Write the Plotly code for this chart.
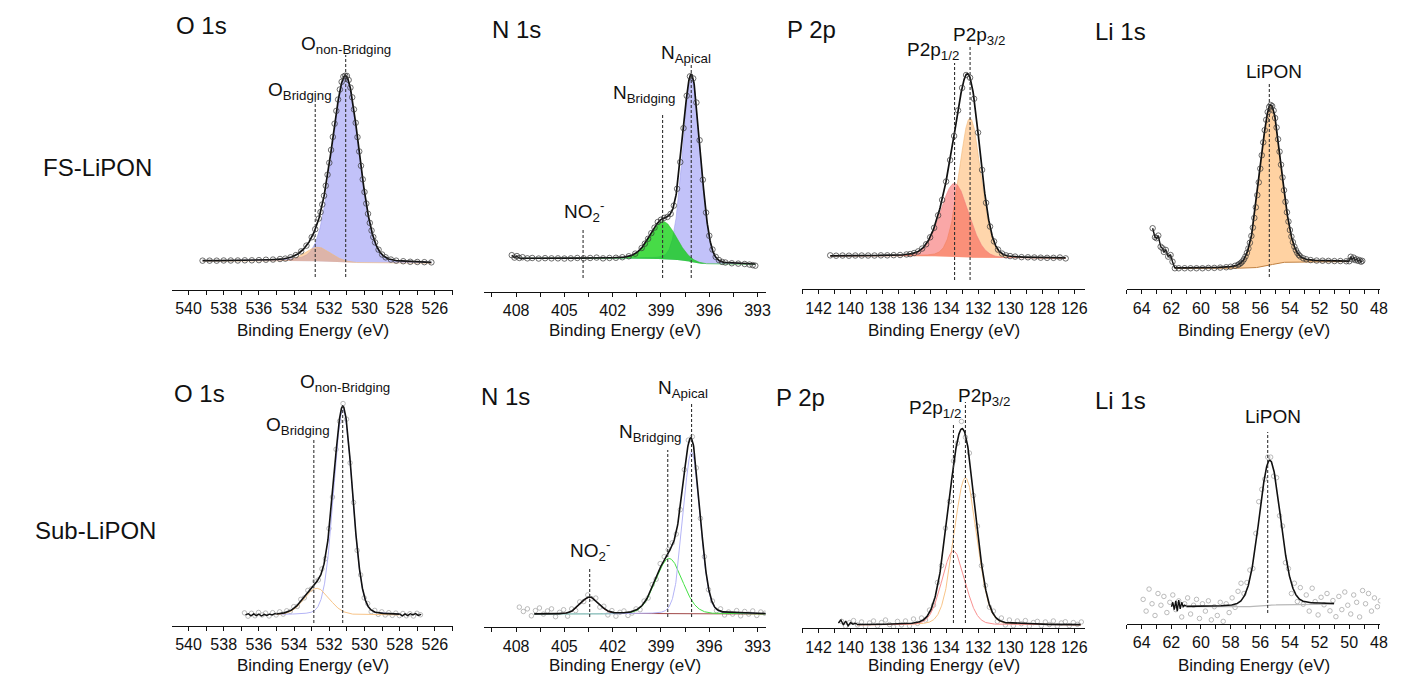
import numpy as np
import plotly.graph_objects as go

W, H = 1402, 678
FONT = "Liberation Sans, Arial, Helvetica, sans-serif"

# ============ FS-LiPON : O 1s ============
fs_o1s_E = [539.2, 538.8, 538.4, 538.0, 537.6, 537.2, 536.8, 536.4, 536.0, 535.6, 535.2, 534.8, 534.5, 534.2,
            533.9, 533.6, 533.3, 533.0, 532.8,
            532.6, 532.5, 532.4, 532.3, 532.2, 532.1, 532.0, 531.9, 531.8, 531.7, 531.6, 531.5, 531.4, 531.3,
            531.2, 531.1, 531.0, 530.9, 530.8, 530.7, 530.6, 530.5, 530.4, 530.3, 530.2, 530.1, 530.0, 529.9,
            529.8, 529.7, 529.6, 529.5, 529.4,
            529.2, 529.0, 528.8, 528.5, 528.2, 527.8, 527.4, 527.0, 526.6, 526.2]
fs_o1s_I = [0.002, 0.002, 0.002, 0.003, 0.003, 0.003, 0.004, 0.004, 0.005, 0.007, 0.008, 0.011, 0.013, 0.020,
            0.032, 0.052, 0.083, 0.128, 0.171,
            0.228, 0.263, 0.304, 0.351, 0.405, 0.464, 0.528, 0.597, 0.667, 0.738, 0.807, 0.868, 0.922, 0.963,
            0.991, 0.996, 0.995, 0.973, 0.932, 0.880, 0.815, 0.743, 0.666, 0.589, 0.512, 0.439, 0.371, 0.309,
            0.254, 0.205, 0.164, 0.129, 0.100,
            0.061, 0.035, 0.020, 0.008, 0.002, -0.001, -0.004, -0.005, -0.006, -0.007]
fs_o1s_center = [531.07, 532.65]
fs_o1s_height = [0.995, 0.075]
fs_o1s_fwhm = [1.80, 1.70]
fs_o1s_eta = [0.15, 0.10]
fs_o1s_bg = [0.0, -0.012]          # background level: high-BE side, low-BE side
fs_o1s_fit = [526.2, 539.2]
fs_o1s_marks = [532.8, 531.07]

# ============ FS-LiPON : N 1s ============
fs_n1s_E = [408.27, 408.1, 407.95, 407.8, 407.6, 407.3, 407.0, 406.6, 406.2, 405.8, 405.4, 405.0,
            404.6, 404.2, 403.8, 403.4, 403.0, 402.6, 402.2, 401.8, 401.4, 401.0, 400.6, 400.2, 400.0,
            399.8, 399.6, 399.4, 399.2, 399.0, 398.8, 398.6, 398.4, 398.2, 398.0, 397.8, 397.6, 397.4,
            397.2, 397.0, 396.8, 396.6, 396.4, 396.2, 396.0, 395.8, 395.6, 395.4, 395.2, 395.0, 394.6,
            394.2, 393.8, 393.5, 393.3, 393.14]
fs_n1s_I = [0.035, 0.022, 0.030, 0.020, 0.024, 0.018, 0.020, 0.017, 0.019, 0.018, 0.018, 0.017,
            0.018, 0.020, 0.018, 0.020, 0.022, 0.018, 0.020, 0.021, 0.024, 0.029, 0.043, 0.073, 0.096,
            0.122, 0.152, 0.181, 0.211, 0.223, 0.233, 0.238, 0.254, 0.298, 0.387, 0.529, 0.709, 0.881,
            0.984, 0.973, 0.845, 0.645, 0.435, 0.261, 0.138, 0.065, 0.026, 0.009, -0.001, -0.004, -0.008,
            -0.010, -0.012, -0.015, -0.018, -0.021]
fs_n1s_center = [397.1, 398.86]
fs_n1s_height = [0.975, 0.20]
fs_n1s_fwhm = [1.30, 1.90]
fs_n1s_eta = [0.10, 0.10]
fs_n1s_bg = [0.018, -0.015]
fs_n1s_fit = [393.14, 407.8]
fs_n1s_marks = [403.84, 398.9, 397.12]

# ============ FS-LiPON : P 2p ============
fs_p2p_E = [141.27, 140.9, 140.5, 140.1, 139.7, 139.3, 138.9, 138.5, 138.1, 137.7, 137.3, 136.9, 136.5, 136.27,
            136.02, 135.77, 135.52, 135.27, 135.02, 134.77, 134.52, 134.27, 134.02, 133.77, 133.52, 133.27,
            133.02, 132.77, 132.52, 132.27, 132.02, 131.77, 131.52, 131.27, 131.02, 130.77, 130.52, 130.27,
            130.02, 129.7, 129.3, 128.9, 128.5, 128.1, 127.7, 127.3, 126.9, 126.54]
fs_p2p_I = [0.004, 0.002, 0.003, 0.002, 0.003, 0.003, 0.003, 0.003, 0.004, 0.004, 0.005, 0.006, 0.009, 0.011,
            0.017, 0.026, 0.042, 0.066, 0.105, 0.158, 0.228, 0.314, 0.417, 0.537, 0.672, 0.815,
            0.941, 1.013, 0.998, 0.880, 0.691, 0.482, 0.298, 0.165, 0.082, 0.036, 0.014, 0.004,
            0.000, -0.003, -0.006, -0.007, -0.008, -0.009, -0.010, -0.010, -0.008, -0.013]
fs_p2p_center = [132.52, 133.49]      # 2p3/2, 2p1/2
fs_p2p_height = [0.78, 0.41]
fs_p2p_fwhm = [1.60, 2.10]
fs_p2p_eta = [0.10, 0.10]
fs_p2p_bg = [0.0, -0.013]
fs_p2p_fit = [126.54, 141.27]
fs_p2p_marks = [133.49, 132.52]

# ============ FS-LiPON : Li 1s ============
fs_li_E = [63.26, 63.1, 62.99, 62.88, 62.72, 62.59, 62.5, 62.37, 62.21, 62.05, 61.92, 61.76,
           61.5, 61.1, 60.7, 60.3, 59.9, 59.5, 59.1, 58.7, 58.3, 58.0, 57.7, 57.5,
           57.4, 57.3, 57.2, 57.1, 57.0, 56.9, 56.8, 56.7, 56.6, 56.5, 56.4, 56.3, 56.2, 56.1,
           56.0, 55.9, 55.8, 55.7, 55.6, 55.5, 55.4, 55.3, 55.2, 55.1, 55.0, 54.9, 54.8, 54.7,
           54.6, 54.5, 54.4, 54.3, 54.2, 54.1, 54.0, 53.9, 53.8, 53.7, 53.6, 53.5, 53.4, 53.3,
           53.1, 52.9, 52.6, 52.2, 51.8, 51.4, 51.0, 50.6, 50.2, 50.0,
           49.9, 49.8, 49.7, 49.6, 49.5, 49.4, 49.3, 49.2, 49.12]
fs_li_I = [0.245, 0.190, 0.184, 0.200, 0.132, 0.122, 0.100, 0.112, 0.071, 0.081, 0.040, 0.000,
           0.000, 0.000, 0.000, 0.000, 0.000, 0.002, 0.002, 0.004, 0.006, 0.009, 0.015, 0.021,
           0.026, 0.033, 0.042, 0.055, 0.072, 0.094, 0.121, 0.156, 0.198, 0.249, 0.308, 0.373, 0.448, 0.526,
           0.610, 0.692, 0.771, 0.846, 0.909, 0.957, 0.988, 1.000, 0.993, 0.966, 0.920, 0.862, 0.790, 0.714,
           0.634, 0.556, 0.478, 0.407, 0.343, 0.286, 0.234, 0.194, 0.160, 0.132, 0.111, 0.094, 0.081, 0.072,
           0.061, 0.055, 0.050, 0.047, 0.046, 0.045, 0.044, 0.044, 0.043, 0.043,
           0.070, 0.055, 0.065, 0.050, 0.055, 0.045, 0.050, 0.040, 0.045]
fs_li_center = [55.3]
fs_li_height = [0.98]
fs_li_fwhm = [1.68]
fs_li_eta = [0.10]
fs_li_bg = [0.0, 0.041]
fs_li_fit = [50.0, 61.76]
fs_li_marks = [55.39]

# ============ Sub-LiPON : O 1s ============
sub_o1s_E = [536.82, 536.62, 536.42, 536.22, 536.02, 535.82, 535.62, 535.42, 535.22, 535.02,
             534.82, 534.62, 534.42, 534.22, 534.02, 533.82, 533.62, 533.42, 533.22, 533.02,
             532.82, 532.62, 532.42, 532.22, 532.02, 531.82, 531.62, 531.42, 531.22, 531.02,
             530.82, 530.62, 530.42, 530.22, 530.02, 529.82, 529.62, 529.42, 529.22, 529.02,
             528.82, 528.62, 528.42, 528.22, 528.02, 527.82, 527.62, 527.42, 527.22, 527.02, 526.82]
sub_o1s_I = [0.010, -0.006, 0.008, -0.004, 0.012, 0.000, 0.009, -0.005, 0.011, 0.000,
             0.015, 0.004, 0.020, 0.017, 0.040, 0.041, 0.075, 0.082, 0.118, 0.125,
             0.162, 0.168, 0.221, 0.270, 0.415, 0.566, 0.795, 0.930, 1.015, 0.940,
             0.730, 0.540, 0.310, 0.192, 0.082, 0.055, 0.016, 0.022, 0.003, 0.015,
             0.000, 0.011, -0.002, 0.009, -0.003, 0.007, -0.004, 0.006, -0.005, 0.008, 0.001]
sub_o1s_center = [531.22, 532.71]
sub_o1s_height = [0.985, 0.128]
sub_o1s_fwhm = [1.25, 1.70]
sub_o1s_eta = [0.10, 0.10]
sub_o1s_bg = [0.0, 0.0]
sub_o1s_fit = [528.0, 535.0]
sub_o1s_marks = [532.88, 531.24]
sub_o1s_edgeL_E = [536.76, 536.6, 536.45, 536.3, 536.15, 536.0, 535.85, 535.7, 535.55, 535.4, 535.25, 535.1, 535.0]
sub_o1s_edgeL_I = [0.000, 0.006, -0.004, 0.005, -0.003, 0.004, -0.005, 0.003, -0.002, 0.004, 0.000, 0.006, 0.005]
sub_o1s_edgeR_E = [528.0, 527.85, 527.7, 527.55, 527.4, 527.25, 527.1, 526.95, 526.78]
sub_o1s_edgeR_I = [0.004, -0.004, 0.005, -0.003, 0.006, 0.000, 0.007, -0.002, 0.003]

# ============ Sub-LiPON : N 1s ============
sub_n1s_E = [407.8, 407.55, 407.3, 407.05, 406.8, 406.55, 406.3, 406.05, 405.8, 405.55,
             405.3, 405.05, 404.8, 404.55, 404.3, 404.05, 403.8, 403.55, 403.3, 403.05,
             402.8, 402.55, 402.3, 402.05, 401.8, 401.55, 401.3, 401.05, 400.8, 400.55,
             400.3, 400.05, 399.8, 399.55, 399.3, 399.05, 398.8, 398.55, 398.3, 398.05,
             397.8, 397.55, 397.3, 397.05, 396.8, 396.55, 396.3, 396.05, 395.8, 395.55,
             395.3, 395.05, 394.8, 394.55, 394.3, 394.05, 393.8, 393.55, 393.3, 393.05,
             392.8, 392.55, 392.3]
sub_n1s_I = [0.040, 0.015, 0.030, -0.010, 0.020, 0.035, 0.000, 0.018, 0.030, -0.015,
             0.010, 0.025, -0.012, 0.030, 0.020, 0.070, 0.072, 0.110, 0.088, 0.092,
             0.040, 0.045, -0.005, 0.020, -0.012, 0.010, 0.018, -0.008, 0.006, 0.030,
             0.025, 0.075, 0.092, 0.170, 0.200, 0.290, 0.330, 0.370, 0.410, 0.460,
             0.600, 0.830, 1.000, 1.020, 0.840, 0.550, 0.330, 0.140, 0.075, 0.020,
             0.030, -0.005, 0.012, 0.000, 0.020, -0.010, 0.015, 0.000, 0.018, -0.008,
             0.012, 0.005, 0.015]
sub_n1s_center = [403.43, 398.5, 397.1]    # NO2-, N bridging, N apical
sub_n1s_height = [0.096, 0.32, 0.93]
sub_n1s_fwhm = [1.35, 1.95, 1.25]
sub_n1s_eta = [0.10, 0.10, 0.10]
sub_n1s_bg = [0.0, 0.0]
sub_n1s_fit = [392.3, 406.87]
sub_n1s_marks = [403.43, 398.58, 397.1]

# ============ Sub-LiPON : P 2p ============
sub_p2p_E = [140.56, 140.31, 140.06, 139.81, 139.56, 139.31, 139.06, 138.81, 138.56, 138.31,
             138.06, 137.81, 137.56, 137.31, 137.06, 136.81, 136.56, 136.31, 136.06, 135.81,
             135.56, 135.31, 135.06, 134.81, 134.56, 134.31, 134.06, 133.81, 133.56, 133.31,
             133.06, 132.81, 132.56, 132.31, 132.06, 131.81, 131.56, 131.31, 131.06, 130.81,
             130.56, 130.31, 130.06, 129.81, 129.56, 129.31, 129.06, 128.81, 128.56, 128.31,
             128.06, 127.81, 127.56, 127.31, 127.06, 126.81, 126.56, 126.31, 126.06, 125.81, 125.56]
sub_p2p_I = [0.018, -0.006, 0.012, 0.022, 0.000, 0.015, -0.008, 0.010, 0.020, -0.004,
             0.012, 0.025, 0.002, -0.010, 0.018, 0.000, 0.020, -0.005, 0.030, 0.008,
             0.035, 0.025, 0.075, 0.100, 0.215, 0.300, 0.490, 0.625, 0.830, 0.920,
             1.030, 0.950, 0.870, 0.655, 0.500, 0.300, 0.200, 0.090, 0.070, 0.018,
             0.035, 0.000, 0.025, -0.004, 0.020, 0.006, 0.022, -0.006, 0.012, 0.018,
             -0.004, 0.015, 0.002, 0.020, -0.006, 0.010, 0.016, -0.004, 0.012, 0.003, 0.015]
sub_p2p_center = [132.81, 133.56]     # 2p3/2, 2p1/2
sub_p2p_height = [0.745, 0.374]
sub_p2p_fwhm = [1.70, 1.70]
sub_p2p_eta = [0.10, 0.10]
sub_p2p_bg = [0.0, 0.0]
sub_p2p_fit = [125.6, 139.6]
sub_p2p_marks = [133.56, 132.81]
sub_p2p_edgeL_E = [140.76, 140.6, 140.45, 140.3, 140.15, 140.0, 139.85, 139.7, 139.6]
sub_p2p_edgeL_I = [0.010, 0.025, 0.000, 0.020, -0.005, 0.012, 0.004, 0.008, 0.004]

# ============ Sub-LiPON : Li 1s ============
sub_li_E = [63.9, 63.7, 63.5, 63.3, 63.1, 62.9, 62.7, 62.5, 62.3, 62.1,
            61.9, 61.7, 61.5, 61.3, 61.1, 60.9, 60.7, 60.5, 60.3, 60.1,
            59.9, 59.7, 59.5, 59.3, 59.1, 58.9, 58.7, 58.5, 58.3, 58.1,
            57.9, 57.7, 57.5, 57.3, 57.1, 56.9, 56.7, 56.5, 56.3, 56.1,
            55.9, 55.7, 55.5, 55.3, 55.1, 54.9, 54.7, 54.5, 54.3, 54.1,
            53.9, 53.7, 53.5, 53.3, 53.1, 52.9, 52.7, 52.5, 52.3, 52.1,
            51.9, 51.7, 51.5, 51.3, 51.1, 50.9, 50.7, 50.5, 50.3, 50.1,
            49.9, 49.7, 49.5, 49.3, 49.1, 48.9, 48.7, 48.5, 48.3, 48.1, 47.9]
sub_li_I = [0.05, -0.03, 0.12, 0.02, -0.06, 0.09, 0.01, 0.07, -0.04, 0.03,
            0.08, -0.02, 0.04, -0.07, 0.02, 0.06, -0.05, 0.01, 0.05, -0.08,
            0.02, -0.03, 0.04, -0.09, 0.00, -0.06, 0.03, -0.10, 0.02, -0.04,
            0.06, -0.005, 0.105, 0.16, 0.09, 0.165, 0.25, 0.26, 0.50, 0.716,
            0.80, 0.87, 1.02, 1.02, 0.89, 0.88, 0.62, 0.55, 0.30, 0.26,
            0.09, 0.16, 0.035, 0.13, 0.017, 0.08, -0.03, 0.126, 0.035, -0.056,
            0.064, 0.013, 0.09, -0.028, 0.042, -0.068, 0.07, -0.02, 0.10, 0.01,
            -0.05, 0.08, 0.03, -0.07, 0.11, 0.02, 0.09, -0.03, 0.06, 0.00, 0.04]
sub_li_center = [55.36]
sub_li_height = [0.99]
sub_li_fwhm = [1.70]
sub_li_eta = [0.10]
sub_li_bg = [0.0, 0.018]
sub_li_fit = [51.02, 60.98]
sub_li_marks = [55.5]
sub_li_edgeL_E = [61.99, 61.9, 61.8, 61.7, 61.6, 61.5, 61.4, 61.3, 61.2, 61.1, 60.98]
sub_li_edgeL_I = [0.000, 0.030, -0.020, 0.040, -0.030, 0.045, -0.015, 0.030, 0.000, 0.010, 0.003]

# ---------------- text ----------------
row_labels = ["FS-LiPON", "Sub-LiPON"]
panel_titles = ["O 1s", "N 1s", "P 2p", "Li 1s"]
axis_title = "Binding Energy (eV)"


# ---------------- fit model (Gaussian-Lorentzian components + Shirley-type step) ----------------
def pv(E, c, h, w, eta):
    d = (E - c) / w
    return h * ((1 - eta) * np.exp(-4 * np.log(2) * d * d) + eta / (1 + 4 * d * d))


def fit_curves(fit, cs, hs, ws, etas, bg):
    Eg = np.linspace(fit[0], fit[1], 700)
    comps = [pv(Eg, c, h, w, e) for c, h, w, e in zip(cs, hs, ws, etas)]
    tot = np.sum(comps, axis=0)
    frac = np.cumsum(tot) / np.sum(tot)
    back = bg[1] + (bg[0] - bg[1]) * frac
    return Eg, comps, back


LAV_F, LAV_L = "rgba(110,110,240,0.42)", "#a0a0f0"
ORA_F, ORA_L = "rgba(255,165,70,0.45)", "#f2b878"
GRN_F, GRN_L = "rgba(0,205,0,0.72)", "#30c030"
RED_F, RED_L = "rgba(245,60,60,0.45)", "#f08080"

panels = [
    dict(row=0, E=fs_o1s_E, I=fs_o1s_I, c=fs_o1s_center, h=fs_o1s_height, w=fs_o1s_fwhm, eta=fs_o1s_eta,
         bg=fs_o1s_bg, fit=fs_o1s_fit, marks=fs_o1s_marks, mark_px=[(100, 277), (55, 277)],
         fill=[(0, LAV_F, LAV_L), (1, ORA_F, ORA_L)],
         xdom=(173.3, 456.0), yline=289.7, xr=(540.92, 524.95), yr=(-0.154, 1.188), dt=2, t0=0, mdt=1,
         labels=[("O<sub>non-Bridging</sub>", 348, 45), ("O<sub>Bridging</sub>", 302, 91)]),
    dict(row=0, E=fs_n1s_E, I=fs_n1s_I, c=fs_n1s_center, h=fs_n1s_height, w=fs_n1s_fwhm, eta=fs_n1s_eta,
         bg=fs_n1s_bg, fit=fs_n1s_fit, marks=fs_n1s_marks, mark_px=[(228, 278), (113, 278), (65, 278)],
         fill=[(0, LAV_F, LAV_L), (1, GRN_F, GRN_L)],
         xdom=(486.7, 770.0), yline=291.7, xr=(410.0, 392.5), yr=(-0.159, 1.177), dt=3, t0=393, mdt=1.5,
         labels=[("N<sub>Apical</sub>", 690, 54), ("N<sub>Bridging</sub>", 648, 94),
                 ("NO<sub>2</sub><sup>-</sup>", 587, 212)]),
    dict(row=0, E=fs_p2p_E, I=fs_p2p_I, c=fs_p2p_center, h=fs_p2p_height, w=fs_p2p_fwhm, eta=fs_p2p_eta,
         bg=fs_p2p_bg, fit=fs_p2p_fit, marks=fs_p2p_marks, mark_px=[(63, 280), (45, 280)],
         fill=[(0, ORA_F, ORA_L), (1, RED_F, RED_L)],
         xdom=(806.7, 1091.7), yline=289.3, xr=(143.03, 125.3), yr=(-0.186, 1.209), dt=2, t0=0, mdt=1,
         labels=[("P2p<sub>1/2</sub>", 938, 51), ("P2p<sub>3/2</sub>", 985, 36)]),
    dict(row=0, E=fs_li_E, I=fs_li_I, c=fs_li_center, h=fs_li_height, w=fs_li_fwhm, eta=fs_li_eta,
         bg=fs_li_bg, fit=fs_li_fit, marks=fs_li_marks, mark_px=[(83, 277)],
         fill=[(0, "rgba(255,165,70,0.5)", ORA_L)], bgline="#c08040",
         xdom=(1133.3, 1388.3), yline=289.3, xr=(65.0, 47.9), yr=(-0.129, 1.398), dt=2, t0=0, mdt=1,
         labels=[("LiPON", 1281, 72)]),
    dict(row=1, E=sub_o1s_E, I=sub_o1s_I, c=sub_o1s_center, h=sub_o1s_height, w=sub_o1s_fwhm, eta=sub_o1s_eta,
         bg=sub_o1s_bg, fit=sub_o1s_fit, marks=sub_o1s_marks, mark_px=[(438, 623), (403, 623)],
         lines=["#b4b4f6", "#f8c488"],
         edges=[(sub_o1s_edgeL_E, sub_o1s_edgeL_I), (sub_o1s_edgeR_E, sub_o1s_edgeR_I)],
         xdom=(173.3, 456.0), yline=626.0, xr=(540.92, 524.95), yr=(-0.053, 1.152), dt=2, t0=0, mdt=1,
         labels=[("O<sub>non-Bridging</sub>", 347, 383), ("O<sub>Bridging</sub>", 300, 426)]),
    dict(row=1, E=sub_n1s_E, I=sub_n1s_I, c=sub_n1s_center, h=sub_n1s_height, w=sub_n1s_fwhm, eta=sub_n1s_eta,
         bg=sub_n1s_bg, fit=sub_n1s_fit, marks=sub_n1s_marks, mark_px=[(567, 617), (450, 617), (403, 617)],
         lines=["#a04848", "#44e044", "#b4b4f6"], edges=[],
         xdom=(486.7, 770.0), yline=627.3, xr=(410.0, 392.5), yr=(-0.076, 1.374), dt=3, t0=393, mdt=1.5,
         labels=[("N<sub>Apical</sub>", 687, 389), ("N<sub>Bridging</sub>", 654, 433),
                 ("NO<sub>2</sub><sup>-</sup>", 593, 550)]),
    dict(row=1, E=sub_p2p_E, I=sub_p2p_I, c=sub_p2p_center, h=sub_p2p_height, w=sub_p2p_fwhm, eta=sub_p2p_eta,
         bg=sub_p2p_bg, fit=sub_p2p_fit, marks=sub_p2p_marks, mark_px=[(425, 623), (402, 623)],
         lines=["#f8c488", "#f89090"], edges=[(sub_p2p_edgeL_E, sub_p2p_edgeL_I)],
         xdom=(806.7, 1091.7), yline=628.3, xr=(143.03, 125.3), yr=(-0.017, 1.265), dt=2, t0=0, mdt=1,
         labels=[("P2p<sub>1/2</sub>", 940, 409), ("P2p<sub>3/2</sub>", 990, 397)]),
    dict(row=1, E=sub_li_E, I=sub_li_I, c=sub_li_center, h=sub_li_height, w=sub_li_fwhm, eta=sub_li_eta,
         bg=sub_li_bg, fit=sub_li_fit, marks=sub_li_marks, mark_px=[(432, 613)],
         lines=[], bgline="#b8b8b8", edges=[(sub_li_edgeL_E, sub_li_edgeL_I)],
         xdom=(1133.3, 1388.3), yline=624.0, xr=(65.0, 47.9), yr=(-0.118, 1.58), dt=2, t0=0, mdt=1,
         labels=[("LiPON", 1280, 417)]),
]

row_top = [40, 375]
axis_title_y = [330, 665]
title_pos = [[(175, 25), (493, 30), (790, 30), (1099, 31)],
             [(173, 393), (482, 396), (778, 397), (1099, 400)]]
row_label_pos = [(98, 168), (96, 530)]

fig = go.Figure()
layout = {}
annotations = []
shapes = []


def px(X):
    return X / W


def py(Y):
    return 1 - Y / H


for i, p in enumerate(panels, start=1):
    xa = "x" if i == 1 else f"x{i}"
    ya = "y" if i == 1 else f"y{i}"
    Eg, comps, back = fit_curves(p["fit"], p["c"], p["h"], p["w"], p["eta"], p["bg"])
    env = back + np.sum(comps, axis=0)
    common = dict(xaxis=xa, yaxis=ya, hoverinfo="skip", showlegend=False)

    if p["row"] == 0:
        for k, fcol, lcol in p["fill"]:
            fig.add_trace(go.Scatter(x=Eg, y=back, mode="lines",
                                     line=dict(width=0, color="rgba(0,0,0,0)"), **common))
            fig.add_trace(go.Scatter(x=Eg, y=back + comps[k], mode="lines",
                                     line=dict(width=0.6, color=lcol),
                                     fill="tonexty", fillcolor=fcol, **common))
        if p.get("bgline"):
            fig.add_trace(go.Scatter(x=Eg, y=back, mode="lines",
                                     line=dict(width=1, color=p["bgline"]), **common))
        # black data line outside the fitted window
        lo, hi = p["fit"]
        left = [(e, v) for e, v in zip(p["E"], p["I"]) if e >= hi]
        right = [(e, v) for e, v in zip(p["E"], p["I"]) if e <= lo]
        for seg in (left, right):
            if len(seg) > 1:
                fig.add_trace(go.Scatter(x=[s[0] for s in seg], y=[s[1] for s in seg], mode="lines",
                                         line=dict(width=1.4, color="#111"), **common))
        fig.add_trace(go.Scatter(x=Eg, y=env, mode="lines", line=dict(width=1.7, color="#111"), **common))
        fig.add_trace(go.Scatter(x=p["E"], y=p["I"], mode="markers",
                                 marker=dict(symbol="circle-open", size=5.5, color="rgba(55,55,55,0.8)",
                                             line=dict(width=0.9)),
                                 **common))
    else:
        fig.add_trace(go.Scatter(x=p["E"], y=p["I"], mode="markers",
                                 marker=dict(symbol="circle-open", size=4.5, color="#a9a9a9",
                                             line=dict(width=0.8)),
                                 **common))
        for k, lcol in enumerate(p["lines"]):
            fig.add_trace(go.Scatter(x=Eg, y=back + comps[k], mode="lines",
                                     line=dict(width=1, color=lcol), **common))
        if p.get("bgline"):
            fig.add_trace(go.Scatter(x=Eg, y=back, mode="lines",
                                     line=dict(width=1.2, color=p["bgline"]), **common))
        for ex, ey in p["edges"]:
            fig.add_trace(go.Scatter(x=ex, y=ey, mode="lines", line=dict(width=1.4, color="#111"), **common))
        fig.add_trace(go.Scatter(x=Eg, y=env, mode="lines", line=dict(width=1.6, color="#111"), **common))

    # dashed peak markers
    for e, (yt, yb) in zip(p["marks"], p["mark_px"]):
        shapes.append(dict(type="line", xref=xa, yref="paper", x0=e, x1=e, y0=py(yb), y1=py(yt),
                           line=dict(color="#333", width=1.1, dash="3px,2px")))

    # axes
    tick_style = dict(ticks="outside", ticklen=4, tickwidth=1, tickcolor="#111")
    layout["xaxis" if i == 1 else f"xaxis{i}"] = dict(
        domain=[px(p["xdom"][0]), px(p["xdom"][1])], range=list(p["xr"]), anchor=ya,
        showline=True, linecolor="#111", linewidth=1, showgrid=False, zeroline=False,
        tickmode="linear", tick0=p["t0"], dtick=p["dt"], **tick_style,
        minor=dict(tick0=p["t0"], dtick=p["mdt"], showgrid=False, **tick_style),
        tickfont=dict(family=FONT, size=16, color="#111"), fixedrange=True)
    layout["yaxis" if i == 1 else f"yaxis{i}"] = dict(
        domain=[py(p["yline"]), py(row_top[p["row"]])], range=list(p["yr"]), anchor=xa,
        visible=False, fixedrange=True)

    # peak labels
    for txt, X, Y in p["labels"]:
        annotations.append(dict(text=txt, x=px(X), y=py(Y), xref="paper", yref="paper",
                                xanchor="center", yanchor="middle", showarrow=False,
                                font=dict(family=FONT, size=19, color="#111")))
    # axis title
    annotations.append(dict(text=axis_title, x=px((p["xdom"][0] + p["xdom"][1]) / 2),
                            y=py(axis_title_y[p["row"]]), xref="paper", yref="paper",
                            xanchor="center", yanchor="middle", showarrow=False,
                            font=dict(family=FONT, size=17, color="#111")))

for r in range(2):
    for t, (X, Y) in zip(panel_titles, title_pos[r]):
        annotations.append(dict(text=t, x=px(X), y=py(Y), xref="paper", yref="paper",
                                xanchor="left", yanchor="middle", showarrow=False,
                                font=dict(family=FONT, size=24, color="#111")))
    X, Y = row_label_pos[r]
    annotations.append(dict(text=row_labels[r], x=px(X), y=py(Y), xref="paper", yref="paper",
                            xanchor="center", yanchor="middle", showarrow=False,
                            font=dict(family=FONT, size=24, color="#111")))

fig.update_layout(width=W, height=H, margin=dict(l=0, r=0, t=0, b=0),
                  paper_bgcolor="white", plot_bgcolor="white", showlegend=False,
                  annotations=annotations, shapes=shapes, font=dict(family=FONT), **layout)

fig.write_html("out.html")
